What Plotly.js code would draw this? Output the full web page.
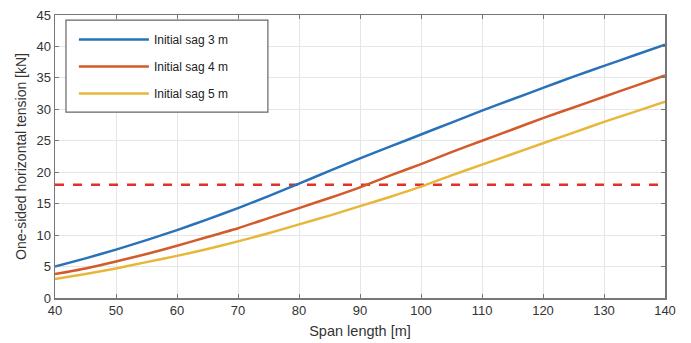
<!DOCTYPE html>
<html>
<head>
<meta charset="utf-8">
<script src="https://cdn.plot.ly/plotly-3.0.1.min.js"></script>
<style>html,body{margin:0;padding:0;background:#fff;}#chart{width:691px;height:343px;}</style>
</head>
<body>
<div id="chart"></div>
<script>
const spanLength = [40,45,50,55,60,65,70,75,80,85,90,95,100,105,110,115,120,125,130,135,140];
const sag3 = [5.0,6.3,7.7,9.2,10.8,12.5,14.3,16.2,18.2,20.2,22.2,24.1,26.0,27.9,29.8,31.6,33.4,35.2,36.9,38.6,40.3];
const sag4 = [3.8,4.7,5.8,7.0,8.3,9.7,11.1,12.7,14.3,15.9,17.6,19.5,21.3,23.2,25.0,26.8,28.6,30.3,32.0,33.7,35.4];
const sag5 = [3.0,3.8,4.7,5.7,6.7,7.8,9.0,10.3,11.7,13.1,14.6,16.1,17.7,19.5,21.2,22.9,24.6,26.3,28.0,29.6,31.2];
const limitX = [40,140];
const limitY = [18,18];
const seriesNames = ['Initial sag 3 m','Initial sag 4 m','Initial sag 5 m'];
const xTicks = [40,50,60,70,80,90,100,110,120,130,140];
const yTicks = [0,5,10,15,20,25,30,35,40,45];

const font = 'Liberation Sans, Arial, sans-serif';
const traces = [
  {x: limitX, y: limitY, mode:'lines', line:{color:'#e2312b', width:2.5, dash:'dash'}, showlegend:false, hoverinfo:'skip'},
  {x: spanLength, y: sag3, name: seriesNames[0], legendgroup:'a', mode:'lines', line:{color:'#2a72b8', width:2.5, shape:'spline', smoothing:0.6}},
  {x: spanLength, y: sag4, name: seriesNames[1], legendgroup:'b', mode:'lines', line:{color:'#d35a2a', width:2.5, shape:'spline', smoothing:0.6}},
  {x: spanLength, y: sag5, name: seriesNames[2], legendgroup:'c', mode:'lines', line:{color:'#e8b73a', width:2.5, shape:'spline', smoothing:0.6}}
];
const axisCommon = {
  showline:true, mirror:'ticks', linecolor:'#777', linewidth:1.5,
  ticks:'inside', ticklen:4, tickcolor:'#777',
  showgrid:true, gridcolor:'#e6e6e6', gridwidth:1, zeroline:false,
  tickfont:{family:font, size:13, color:'#333'}
};
const layout = {
  width:691, height:343,
  margin:{l:55, r:26, t:15, b:45},
  paper_bgcolor:'#fff', plot_bgcolor:'#fff',
  font:{family:font, color:'#333'},
  xaxis: Object.assign({}, axisCommon, {range:[40,140], tickvals:xTicks, ticktext:xTicks.map(String),
    title:{text:'Span length [m]', font:{family:font, size:14.5, color:'#333'}, standoff:9}}),
  yaxis: Object.assign({}, axisCommon, {range:[0,45], tickvals:yTicks, ticktext:yTicks.map(String),
    title:{text:'One-sided horizontal tension [kN]', font:{family:font, size:14, color:'#333'}, standoff:6}}),
  shapes:[{type:'rect', xref:'paper', yref:'paper', x0:0.018, x1:0.349, y0:0.657, y1:0.982,
    fillcolor:'#fff', line:{color:'#666', width:1.2}, layer:'above'}],
  legend:{x:0.031, y:0.965, xanchor:'left', yanchor:'top', bgcolor:'rgba(0,0,0,0)', borderwidth:0,
    font:{family:font, size:12, color:'#222'}, itemwidth:70, tracegroupgap:8, traceorder:'grouped'},
  showlegend:true
};
Plotly.newPlot('chart', traces, layout, {displayModeBar:false, staticPlot:true});
</script>
</body>
</html>
